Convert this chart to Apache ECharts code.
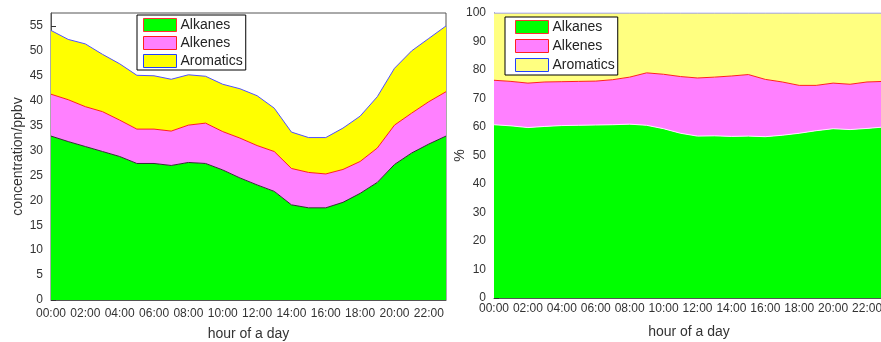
<!DOCTYPE html>
<html>
<head>
<meta charset="utf-8">
<script src="https://cdn.jsdelivr.net/npm/echarts@6/dist/echarts.min.js"></script>
<style>
html,body{margin:0;padding:0;background:#fff;}
#c{width:881px;height:342px;}
</style>
</head>
<body>
<div id="c"></div>
<script>
const hours = ['00:00','01:00','02:00','03:00','04:00','05:00','06:00','07:00','08:00','09:00','10:00','11:00',
               '12:00','13:00','14:00','15:00','16:00','17:00','18:00','19:00','20:00','21:00','22:00','23:00'];
const seriesNames = ['Alkanes','Alkenes','Aromatics'];

// left: concentration (ppbv)
const alkanes   = [32.9, 31.8, 30.8, 29.8, 28.8, 27.4, 27.4, 27.0, 27.6, 27.4, 26.1, 24.5, 23.1, 21.8, 19.1, 18.5, 18.5, 19.6, 21.4, 23.6, 27.2, 29.5, 31.3, 32.9];
const alkenes   = [8.4, 8.4, 8.0, 8.0, 7.3, 6.9, 6.9, 6.9, 7.5, 8.1, 7.7, 8.0, 7.9, 8.0, 7.3, 7.1, 6.8, 6.6, 6.4, 6.9, 7.9, 8.0, 8.5, 8.9];
const aromatics = [12.8, 12.1, 12.6, 11.5, 11.3, 10.8, 10.7, 10.4, 10.1, 9.4, 9.5, 9.9, 10.0, 8.7, 7.3, 7.0, 7.3, 8.3, 9.1, 10.3, 11.4, 12.5, 12.7, 13.2];

// right: percentage
const alkanesPct   = [60.8, 60.4, 59.8, 60.2, 60.5, 60.6, 60.7, 60.8, 61.0, 60.6, 59.4, 57.8, 56.8, 56.9, 56.7, 56.8, 56.6, 57.1, 57.8, 58.7, 59.4, 59.1, 59.5, 60.0];
const alkenesPct   = [15.6, 15.6, 15.6, 15.6, 15.4, 15.4, 15.4, 15.8, 16.5, 18.4, 19.1, 19.9, 20.4, 20.6, 21.2, 21.6, 20.1, 18.7, 16.8, 15.9, 16.0, 15.9, 16.3, 16.0];
const aromaticsPct = [23.6, 24.0, 24.6, 24.2, 24.1, 24.0, 23.9, 23.4, 22.5, 21.0, 21.5, 22.3, 22.8, 22.5, 22.1, 21.6, 23.3, 24.2, 25.4, 25.4, 24.6, 25.0, 24.2, 24.0];

const FONT = '"Liberation Sans", Arial, sans-serif';
const AXIS_COLOR = '#555';
const LABEL_COLOR = '#333';

const chart = echarts.init(document.getElementById('c'), null, {renderer: 'canvas'});

function xAxis(gridIndex, labelMargin, nameGap) {
  return {
    type: 'category', gridIndex, data: hours, boundaryGap: false,
    name: 'hour of a day', nameLocation: 'middle', nameGap, nameMoveOverlap: false,
    nameTextStyle: {fontFamily: FONT, fontSize: 14, color: LABEL_COLOR},
    axisLine: {lineStyle: {color: AXIS_COLOR, width: 1}},
    axisTick: {inside: true, length: 5, interval: 1, lineStyle: {color: '#333'}},
    axisLabel: {interval: 1, margin: labelMargin, fontFamily: FONT, fontSize: 12, color: LABEL_COLOR},
    splitLine: {show: false}
  };
}
function yAxis(gridIndex, max, interval, name, nameGap) {
  return {
    type: 'value', gridIndex, min: 0, max, interval,
    name, nameLocation: 'middle', nameGap, nameMoveOverlap: false,
    nameTextStyle: {fontFamily: FONT, fontSize: 14, color: LABEL_COLOR},
    axisLine: {show: true, lineStyle: {color: AXIS_COLOR, width: 1}},
    axisTick: {show: true, inside: true, length: 5, lineStyle: {color: '#333'}},
    axisLabel: {margin: 8, fontFamily: FONT, fontSize: 12, color: LABEL_COLOR, showMaxLabel: max === 100},
    splitLine: {show: false}
  };
}
function areaSeries(name, data, idx, fill, lineColor, stack) {
  return {
    name, type: 'line', xAxisIndex: idx, yAxisIndex: idx, stack, data,
    showSymbol: false, symbol: 'none', smooth: false,
    itemStyle: {color: fill},
    lineStyle: {color: lineColor, width: 1},
    areaStyle: {color: fill, opacity: 1},
    emphasis: {disabled: true}, silent: true
  };
}
function legend(left, top, yellow, padding, gap) {
  return {
    orient: 'vertical', left, top, padding,
    backgroundColor: '#fff', borderColor: '#000', borderWidth: 1,
    itemWidth: 33, itemHeight: 13, itemGap: gap, icon: 'rect',
    selectedMode: false,
    textStyle: {fontFamily: FONT, fontSize: 14, color: '#222', padding: [0,0,0,-1], lineHeight: 14},
    data: [
      {name: seriesNames[0], itemStyle: {color: '#00ff00', borderColor: '#ff3030', borderWidth: 1}},
      {name: seriesNames[1], itemStyle: {color: '#ff80ff', borderColor: '#ff2020', borderWidth: 1}},
      {name: seriesNames[2], itemStyle: {color: yellow, borderColor: '#2040ff', borderWidth: 1}}
    ]
  };
}

chart.setOption({
  animation: false,
  backgroundColor: '#fff',
  grid: [
    {left: 51, top: 13, width: 395, height: 287, show: true, borderColor: AXIS_COLOR, borderWidth: 1,
     backgroundColor: 'transparent', containLabel: false, outerBoundsMode: 'none'},
    {left: 494, top: 13, width: 390, height: 285, show: false, containLabel: false, outerBoundsMode: 'none'}
  ],
  legend: [
    legend(137, 15, '#ffff00', [3, 3, 2, 6], 4),
    legend(505, 17, '#ffff80', [3, 3, 3, 10], 5)
  ],
  xAxis: [xAxis(0, 8, 27), xAxis(1, 5, 27)],
  yAxis: [yAxis(0, 57.6, 5, 'concentration/ppbv', 26), yAxis(1, 100, 10, '%', 27)],
  series: [
    areaSeries(seriesNames[0], alkanes, 0, '#00ff00', '#303030', 'a'),
    areaSeries(seriesNames[1], alkenes, 0, '#ff80ff', '#ff2020', 'a'),
    areaSeries(seriesNames[2], aromatics, 0, '#ffff00', '#5050ff', 'a'),
    areaSeries(seriesNames[0], alkanesPct, 1, '#00ff00', '#ffe8ff', 'b'),
    areaSeries(seriesNames[1], alkenesPct, 1, '#ff80ff', '#ff2020', 'b'),
    areaSeries(seriesNames[2], aromaticsPct, 1, '#ffff80', '#8080ff', 'b')
  ]
});
</script>
</body>
</html>
